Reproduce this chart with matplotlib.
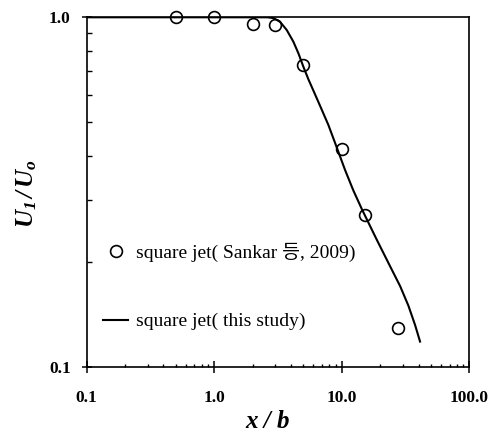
import numpy as np
import matplotlib
matplotlib.use("Agg")
import matplotlib.pyplot as plt
from matplotlib.ticker import FixedLocator, FixedFormatter, NullFormatter
from matplotlib.font_manager import FontProperties

plt.rcParams['font.family'] = ['Liberation Serif', 'Noto Sans CJK KR']
plt.rcParams['mathtext.fontset'] = 'custom'
plt.rcParams['mathtext.it'] = 'Liberation Serif:bold:italic'
plt.rcParams['mathtext.rm'] = 'Liberation Serif:bold:italic'
plt.rcParams['mathtext.bf'] = 'Liberation Serif:bold'

# measured data (Sankar et al., 2009)
x_exp = [0.5, 1.0, 2.0, 3.0, 5.0, 10.0, 15.2, 27.5]
u_exp = [1.0, 1.0, 0.957, 0.95, 0.730, 0.419, 0.272, 0.129]

# this study
x_cal = [0.1, 1.0, 2.0, 2.6, 2.91, 3.28, 3.70, 4.17, 4.57, 5.00, 5.47, 5.99,
         6.76, 7.85, 9.14, 10.6, 12.3, 14.4, 18.8, 23.9, 28.7, 33.3, 37.6, 41.1]
u_cal = [1.0, 1.0, 1.0, 1.0, 0.995, 0.971, 0.920, 0.852, 0.789, 0.722, 0.665, 0.617,
         0.558, 0.492, 0.424, 0.366, 0.320, 0.282, 0.231, 0.194, 0.170, 0.1495, 0.1315, 0.118]

label_exp = "square jet( Sankar 등, 2009)"
label_cal = "square jet( this study)"

x_major = [0.1, 1.0, 10.0, 100.0]
x_major_lab = ["0.1", "1.0", "10.0", "100.0"]
y_major = [0.1, 1.0]
y_major_lab = ["0.1", "1.0"]

fig = plt.figure(figsize=(4.92, 4.32), dpi=100)
ax = fig.add_axes([86.7 / 492, 1 - 366.7 / 432, (469.3 - 86.7) / 492, (366.7 - 17.3) / 432])

ax.plot(x_exp, u_exp, linestyle='none', marker='o', markersize=8.5,
        markerfacecolor='none', markeredgecolor='black', markeredgewidth=1.2,
        label=label_exp, clip_on=False, zorder=3)
ax.plot(x_cal, u_cal, color='black', linewidth=1.5, label=label_cal,
        solid_joinstyle='round')

ax.set_xscale('log')
ax.set_yscale('log')
ax.set_xlim(0.1, 100)
ax.set_ylim(0.1, 1.0)

ax.xaxis.set_major_locator(FixedLocator(x_major))
ax.xaxis.set_major_formatter(FixedFormatter(x_major_lab))
ax.yaxis.set_major_locator(FixedLocator(y_major))
ax.yaxis.set_major_formatter(FixedFormatter(y_major_lab))
ax.xaxis.set_minor_formatter(NullFormatter())
ax.yaxis.set_minor_formatter(NullFormatter())

ax.tick_params(axis='x', which='major', direction='inout', length=8, width=1.1, pad=13)
ax.tick_params(axis='y', which='major', direction='inout', length=7, width=1.1, pad=8)
ax.tick_params(axis='x', which='minor', direction='in', length=2.5, width=1.0)
ax.tick_params(axis='y', which='minor', direction='in', length=3.6, width=1.0)
for lab in ax.get_xticklabels() + ax.get_yticklabels():
    lab.set_fontweight('bold')
    lab.set_fontsize(12.5)

for s in ax.spines.values():
    s.set_linewidth(1.2)

fig.text(268 / 492, 1 - 421 / 432, "x / b", fontsize=18, fontweight='bold',
         fontstyle='italic', ha='center', va='center')
fig.text(27 / 492, 1 - 193 / 432, r"$U_1\,/\,U_o$", fontsize=18, rotation=90,
         ha='center', va='center')

leg = ax.legend(loc='upper left', bbox_to_anchor=(103 / 492, 1 - 243 / 432),
                bbox_transform=fig.transFigure, frameon=False, borderpad=0,
                borderaxespad=0, handlelength=1.3, handletextpad=0.4,
                labelspacing=2.6, numpoints=1,
                prop=FontProperties(family=['Liberation Serif', 'Noto Sans CJK KR'], size=14))

fig.savefig("out.png", dpi=100)
